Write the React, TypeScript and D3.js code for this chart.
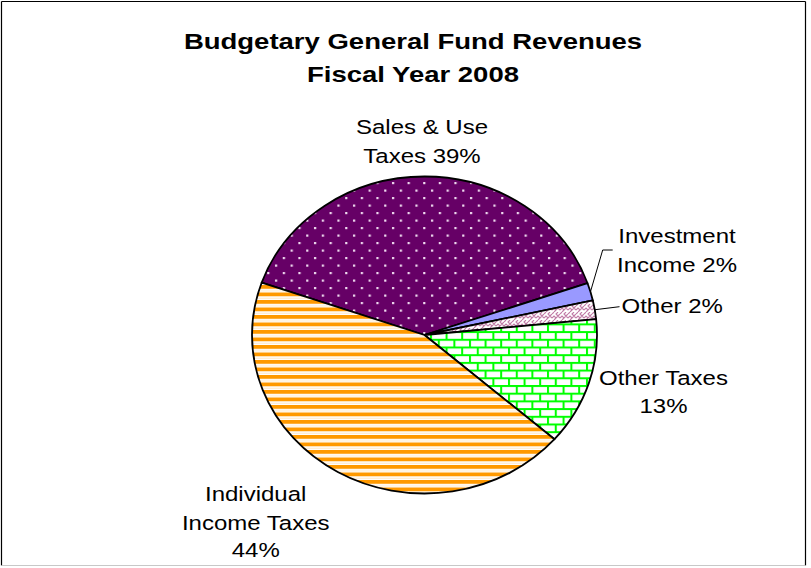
import React from 'react';
import * as d3 from 'd3';

// Fiscal Year 2008 budgetary general fund revenues (share, %)
const categories = ['Sales & Use Taxes', 'Investment Income', 'Other', 'Other Taxes', 'Individual Income Taxes'];
const shares = [39.3, 1.8, 1.9, 13.0, 43.9];
const titleLines = ['Budgetary General Fund Revenues', 'Fiscal Year 2008'];

const W = 811;
const H = 568;
const cx = 424.5;
const cy = 335;
const rx = 172.5;
const ry = 158.5;
const startDeg = -70.7;

const FONT = '"Liberation Sans", Arial, Helvetica, sans-serif';

// fill pattern ids per category
const fills: Record<string, string> = {
  'Sales & Use Taxes': 'url(#dots)',
  'Investment Income': '#9999ff',
  'Other': 'url(#weave)',
  'Other Taxes': 'url(#brick)',
  'Individual Income Taxes': 'url(#stripes)',
};

// label text lines ({p} = percent) and anchor positions
const labelLayout: Record<string, { lines: string[]; x: number; y: number[]; anchor: string }> = {
  'Sales & Use Taxes': { lines: ['Sales & Use', 'Taxes {p}'], x: 422, y: [134, 162.7], anchor: 'middle' },
  'Investment Income': { lines: ['Investment', 'Income {p}'], x: 677, y: [243.3, 271.7], anchor: 'middle' },
  'Other': { lines: ['Other {p}'], x: 621.5, y: [313.3], anchor: 'start' },
  'Other Taxes': { lines: ['Other Taxes', '{p}'], x: 663.5, y: [385, 413.3], anchor: 'middle' },
  'Individual Income Taxes': { lines: ['Individual', 'Income Taxes', '{p}'], x: 255.7, y: [500.7, 530, 557.3], anchor: 'middle' },
};

// leader line bends for the small slices
const leaders: Record<string, [number, number][]> = {
  'Investment Income': [[602.7, 250], [612.7, 250]],
  'Other': [[619.5, 306.7]],
};

const pt = (a: number, k = 1): [number, number] => [cx + rx * k * Math.sin(a), cy - ry * k * Math.cos(a)];

function slicePath(a0: number, a1: number) {
  const [x0, y0] = pt(a0);
  const [x1, y1] = pt(a1);
  const large = a1 - a0 > Math.PI ? 1 : 0;
  return `M${cx},${cy}L${x0},${y0}A${rx},${ry} 0 ${large} 1 ${x1},${y1}Z`;
}

const App: React.FC = () => {
  const data = categories.map((c, i) => ({ name: c, value: shares[i] }));
  const total = d3.sum(shares);
  const start = (startDeg * Math.PI) / 180;
  const arcs = d3
    .pie<{ name: string; value: number }>()
    .sort(null)
    .value((d) => d.value)
    .startAngle(start)
    .endAngle(start + 2 * Math.PI)(data);

  const line = d3.line();

  return (
    <svg width={W} height={H} style={{ position: 'absolute', left: 0, top: 0, background: '#fff' }}>
      <defs>
        <pattern id="dots" patternUnits="userSpaceOnUse" width={15.6} height={15}>
          <rect width={15.6} height={15} fill="#660066" />
          <rect x={2} y={2} width={2.2} height={2.2} fill="#f0dcf0" />
          <rect x={9.8} y={9.5} width={2.2} height={2.2} fill="#f0dcf0" />
        </pattern>
        <pattern id="stripes" patternUnits="userSpaceOnUse" width={8} height={7.5}>
          <rect width={8} height={7.5} fill="#ffffff" />
          <rect y={0} width={8} height={3.8} fill="#ff9900" />
          <rect y={5.4} width={8} height={0.8} fill="#ffe2b8" />
        </pattern>
        <pattern id="brick" patternUnits="userSpaceOnUse" width={15.6} height={15.4}>
          <rect width={15.6} height={15.4} fill="#ffffff" />
          <g stroke="#00ff00" strokeWidth={2}>
            <line x1={0} y1={1} x2={15.6} y2={1} />
            <line x1={0} y1={8.7} x2={15.6} y2={8.7} />
            <line x1={2} y1={1} x2={2} y2={8.7} />
            <line x1={9.8} y1={8.7} x2={9.8} y2={15.4} />
          </g>
        </pattern>
        <pattern id="weave" patternUnits="userSpaceOnUse" width={8} height={8}>
          <rect width={8} height={8} fill="#ffffff" />
          <path d="M0,6 L2,4 L4,6 L6,4 L8,6 M0,2 L2,0 M2,8 L4,6 M6,0 L4,2 L6,4 M6,4 L8,2" stroke="#c07aa6" strokeWidth={1.1} fill="none" />
        </pattern>
      </defs>

      {/* chart frame */}
      <g fill="none" strokeWidth={1.2}>
        <line x1={1.5} y1={1.5} x2={805.5} y2={1.5} stroke="#000" />
        <line x1={1.5} y1={1.5} x2={1.5} y2={565.5} stroke="#000" />
        <line x1={805.5} y1={1.5} x2={805.5} y2={565.5} stroke="#000" />
        <line x1={1.5} y1={565.5} x2={805.5} y2={565.5} stroke="#c8c8c8" />
      </g>

      {titleLines.map((t, i) => (
        <text
          key={t}
          transform={`translate(413,${[49.3, 82.3][i]}) scale(1,0.8)`}
          textAnchor="middle"
          fontFamily={FONT}
          fontWeight="bold"
          fontSize={27.5}
          fill="#000"
        >
          {t}
        </text>
      ))}

      {arcs.map((a) => (
        <path
          key={a.data.name}
          d={slicePath(a.startAngle, a.endAngle)}
          fill={fills[a.data.name]}
          stroke="#000"
          strokeWidth={1.8}
          strokeLinejoin="round"
        />
      ))}

      {arcs.map((a) => {
        const pts = leaders[a.data.name];
        if (!pts) return null;
        const mid = (a.startAngle + a.endAngle) / 2;
        return (
          <path
            key={'l' + a.data.name}
            d={line([pt(mid, 1.0), ...pts]) || ''}
            fill="none"
            stroke="#000"
            strokeWidth={1}
          />
        );
      })}

      {arcs.map((a) => {
        const lay = labelLayout[a.data.name];
        const pct = `${Math.round((a.data.value / total) * 100)}%`;
        return lay.lines.map((l, j) => (
          <text
            key={a.data.name + j}
            transform={`translate(${lay.x},${lay.y[j]}) scale(1,0.87)`}
            textAnchor={lay.anchor}
            fontFamily={FONT}
            fontSize={24}
            fill="#000"
          >
            {l.replace('{p}', pct)}
          </text>
        ));
      })}
    </svg>
  );
};

export default App;
